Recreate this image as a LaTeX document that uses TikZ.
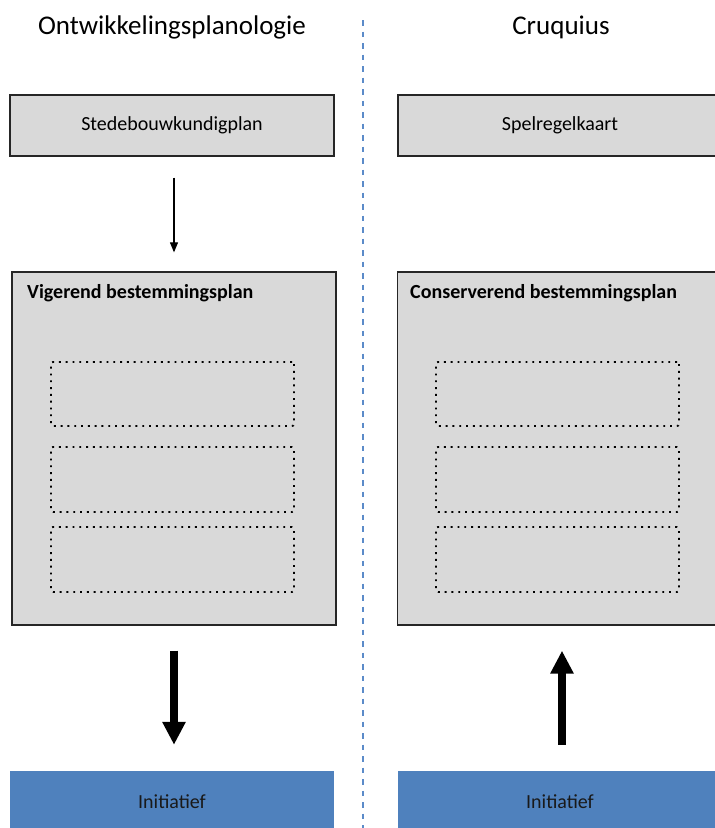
\documentclass[tikz,border=0pt]{standalone}
\usepackage{fontspec}
\setmainfont{Carlito}
\usetikzlibrary{arrows.meta}

\definecolor{boxgray}{HTML}{D9D9D9}
\definecolor{initblue}{HTML}{4F81BD}
\definecolor{splitblue}{HTML}{5B8BC9}

\tikzset{
  graybox/.style={draw=black!85, line width=1.3pt, fill=boxgray,
    minimum width=324pt, minimum height=61pt, inner sep=0pt,
    font=\fontsize{20}{24}\selectfont},
  bigbox/.style={graybox, minimum height=353pt},
  slot/.style={draw=black, line width=1.9pt, dash pattern=on 1.9pt off 4.9pt,
    rounded corners=2pt, minimum width=243pt, inner sep=0pt},
  initbox/.style={fill=initblue, minimum width=324pt, minimum height=62pt,
    inner sep=0pt, font=\fontsize{20}{24}\selectfont, text=black!90},
  heading/.style={anchor=base, font=\fontsize{27}{32}\selectfont},
  boxtitle/.style={anchor=base west, inner sep=0pt, font=\fontsize{20}{24}\selectfont\bfseries},
  thinflow/.style={line width=1.1pt, -{Triangle[width=8pt,length=10pt]}},
  thickflow/.style={line width=8pt, -{Triangle[width=22pt,length=23pt]}},
  divider/.style={splitblue, line width=1.5pt, dash pattern=on 5.5pt off 6pt}
}

\begin{document}
\begin{tikzpicture}[x=1pt, y=-1pt]
  \useasboundingbox (0,0) rectangle (715,828);
  \clip (0,0) rectangle (715,828);

  % column headings
  \node[heading] (hl) at (172,34) {Ontwikkelingsplanologie};
  \node[heading] (hr) at (561,34) {Cruquius};

  % dashed divider between the two columns
  \coordinate (dtop) at (363,20);
  \coordinate (dbot) at (363,830);
  \draw[divider] (dtop) -- (dbot);

  % left column
  \node[graybox] (sb) at (172,125.5) {Stedebouwkundigplan};
  \node[bigbox] (vb) at (174,448.5) {};
  \node[boxtitle] (vbt) at (27,298) {Vigerend bestemmingsplan};
  \node[slot, minimum height=64pt] (vs1) at (172.5,394) {};
  \node[slot, minimum height=65pt] (vs2) at (172.5,479.5) {};
  \node[slot, minimum height=65pt] (vs3) at (172.5,559.5) {};
  \node[initbox] (il) at (172,802) {Initiatief};

  % right column
  \node[graybox] (sr) at (560,125.5) {Spelregelkaart};
  \node[bigbox] (cb) at (559.5,448.5) {};
  \node[boxtitle] (cbt) at (410,298) {Conserverend bestemmingsplan};
  \node[slot, minimum height=64pt] (cs1) at (557.5,394) {};
  \node[slot, minimum height=65pt] (cs2) at (557.5,479.5) {};
  \node[slot, minimum height=65pt] (cs3) at (557.5,559.5) {};
  \node[initbox] (ir) at (560,802) {Initiatief};

  % flows
  \draw[thinflow, shorten <=21pt, shorten >=19pt] (vb.north |- sb.south) -- (vb.north);
  \draw[thickflow, shorten <=25pt, shorten >=26pt] (vb.south) -- (vb.south |- il.north);
  \draw[thickflow, shorten <=26pt, shorten >=25pt] ([xshift=2pt]ir.north) -- ([xshift=2pt]ir.north |- cb.south);
\end{tikzpicture}
\end{document}
